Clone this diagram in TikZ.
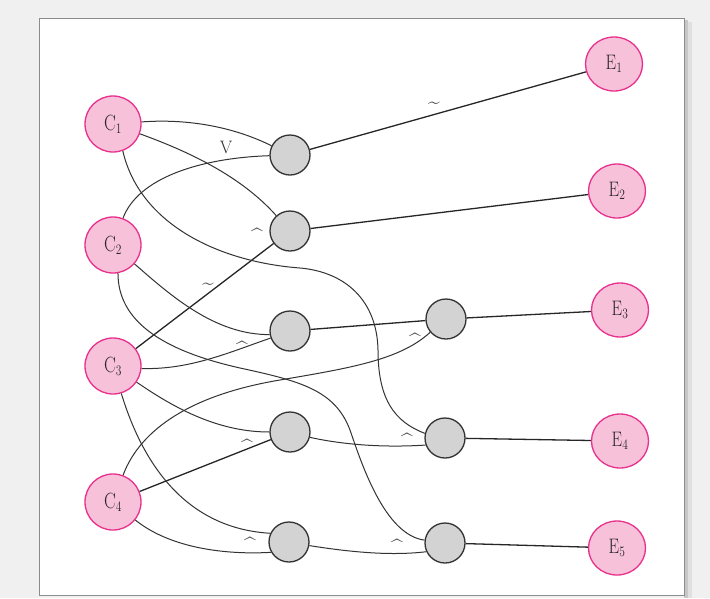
\documentclass[tikz,border=0pt]{standalone}
\usetikzlibrary{shapes.geometric}
\definecolor{bgc}{HTML}{F0F0F0}
\definecolor{pinkfill}{HTML}{F7C1DA}
\definecolor{pinkdraw}{HTML}{E8308C}
\definecolor{grayfill}{HTML}{D3D3D3}
\definecolor{edgecol}{HTML}{333333}
\newcommand{\lab}[2]{\scalebox{0.8}[1]{#1$_{\scriptstyle #2}$}}
\begin{document}
\begin{tikzpicture}[x=1pt,y=-1pt,
  cnode/.style={circle,draw=pinkdraw,fill=pinkfill,line width=1.3pt,minimum size=56pt,inner sep=0pt,font=\fontsize{22}{24}\selectfont,text=black!85},
  enode/.style={ellipse,draw=pinkdraw,fill=pinkfill,line width=1.3pt,minimum width=57pt,minimum height=54pt,inner sep=0pt,font=\fontsize{21}{24}\selectfont,text=black!85},
  gnode/.style={circle,draw=black!80,fill=grayfill,line width=1.3pt,minimum size=40pt,inner sep=0pt},
  cv/.style={draw=edgecol,line width=1pt},
  st/.style={draw=black!85,line width=1.3pt},
  lbl/.style={font=\fontsize{21}{22}\selectfont,text=black!70,inner sep=0pt},
  vlbl/.style={font=\fontsize{18}{20}\selectfont,text=black!80,inner sep=0pt}
]
\useasboundingbox (0,0) rectangle (710,598);
\fill[bgc] (0,0) rectangle (710,598);
\fill[black!12] (686,22) rectangle (692,598);
\fill[black!22] (684,20) rectangle (688,598);
\fill[white] (39,18) rectangle (684,595);
\draw[black!45,line width=0.8pt] (39,18) rectangle (684,595);

% nodes
\node[cnode] (c1) at (113,124) {\lab{C}{1}};
\node[cnode] (c2) at (113,245) {\lab{C}{2}};
\node[cnode] (c3) at (113,366) {\lab{C}{3}};
\node[cnode] (c4) at (113,502) {\lab{C}{4}};
\node[enode] (e1) at (614,64) {\lab{E}{1}};
\node[enode] (e2) at (617,191) {\lab{E}{2}};
\node[enode] (e3) at (620,310) {\lab{E}{3}};
\node[enode] (e4) at (620,441) {\lab{E}{4}};
\node[enode] (e5) at (617,548) {\lab{E}{5}};
\node[gnode] (g1) at (290,155) {};
\node[gnode] (g2) at (290,231) {};
\node[gnode] (g3) at (290,331) {};
\node[gnode] (g4) at (290,432) {};
\node[gnode] (g5) at (289,542) {};
\node[gnode] (h3) at (446,319) {};
\node[gnode] (h4) at (445,438) {};
\node[gnode] (h5) at (445,543) {};

% straight edges
\draw[st] (g1) -- (e1);
\draw[st] (g2) -- (e2);
\draw[st] (g3) -- (h3);
\draw[st] (h3) -- (e3);
\draw[st] (h4) -- (e4);
\draw[st] (h5) -- (e5);
\draw[st] (c3) -- (g2);
\draw[st] (c4) -- (g4);

% curves
\draw[cv] (c1) .. controls (195,118) and (240,130) .. (g1);
\draw[cv] (c1) .. controls (187,151) and (240,175) .. (g2);
\draw[cv] (c1.-70) .. controls (140,225) and (220,262) .. (300,268)
  .. controls (345,272) and (377,300) .. (378,350)
  .. controls (378,400) and (395,422) .. (h4.167);
\draw[cv] (c2) .. controls (138,178) and (200,158) .. (g1);
\draw[cv] (c2) .. controls (170,295) and (215,335) .. (g3.190);
\draw[cv] (c2.-80) .. controls (118,320) and (160,350) .. (240,368)
  .. controls (300,381) and (335,390) .. (350,430)
  .. controls (362,465) and (385,535) .. (h5.172);
\draw[cv] (c3.-5) .. controls (190,370) and (230,352) .. (g3.200);
\draw[cv] (c3) .. controls (170,405) and (215,432) .. (g4);
\draw[cv] (c3) .. controls (140,455) and (180,528) .. (g5.155);
\draw[cv] (c4) .. controls (140,430) and (190,395) .. (280,380)
  .. controls (350,368) and (400,360) .. (h3.220);
\draw[cv] (c4) .. controls (170,548) and (225,555) .. (g5.210);
\draw[cv] (g4.-15) .. controls (340,444) and (380,448) .. (h4.200);
\draw[cv] (g5.-10) .. controls (350,552) and (390,556) .. (h5.205);

% labels
\node[lbl] (t1) at (434,105) {\textasciitilde};
\node[lbl] (t2) at (208,286) {\textasciitilde};
\node[vlbl] (v1) at (226,147) {V};
\node[lbl] (a1) at (257,236) {\textasciicircum};
\node[lbl] (a2) at (242,349) {\textasciicircum};
\node[lbl] (a3) at (415,341) {\textasciicircum};
\node[lbl] (a4) at (247,447) {\textasciicircum};
\node[lbl] (a5) at (407,441) {\textasciicircum};
\node[lbl] (a6) at (250,545) {\textasciicircum};
\node[lbl] (a7) at (397,547) {\textasciicircum};
\end{tikzpicture}
\end{document}
